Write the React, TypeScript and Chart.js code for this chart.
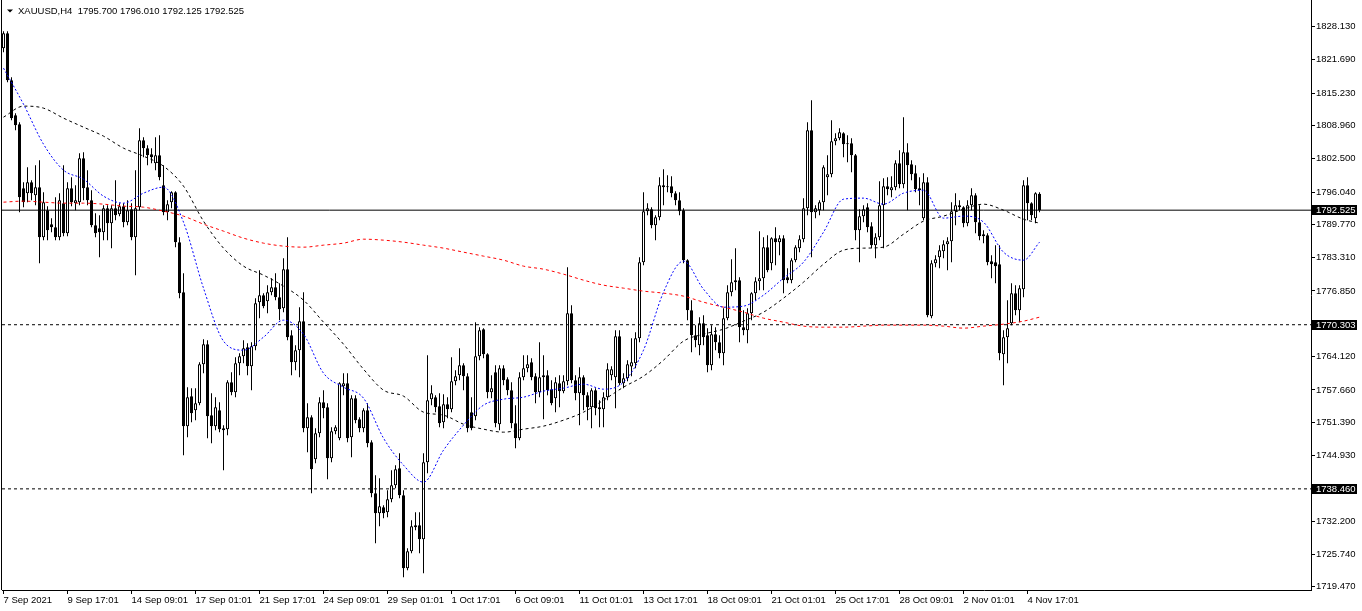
import React, { useEffect, useRef } from 'react';
import { Chart, registerables } from 'chart.js';

Chart.register(...registerables);

// ---- data (XAUUSD H4) ----
const symbol = 'XAUUSD,H4';
const lastBar = ['1795.700', '1796.010', '1792.125', '1792.525'];

const opens = [
1823.96,1826.87,1817.75,1810.96,1809.21,1796.80,1795.83,1797.96,1795.44,1796.99,
1787.29,1792.53,1789.81,1789.23,1787.29,1793.89,1788.07,1796.80,1793.89,1794.08,
1802.62,1796.99,1794.47,1789.62,1789.04,1788.26,1792.92,1790.01,1792.92,1791.75,
1793.31,1790.20,1792.72,1787.29,1793.11,1806.11,1804.56,1803.39,1801.65,1803.20,
1797.38,1792.14,1794.08,1796.02,1786.32,1776.62,1750.63,1756.45,1753.73,1755.09,
1762.65,1766.53,1752.76,1750.63,1753.73,1750.24,1750.04,1759.16,1757.22,1762.85,
1764.21,1765.95,1762.27,1766.15,1774.68,1776.04,1774.88,1776.62,1777.59,1775.65,
1773.52,1781.08,1768.28,1763.04,1765.37,1771.00,1750.24,1752.37,1744.22,1749.27,
1755.28,1754.31,1744.42,1749.66,1748.30,1758.39,1758.97,1748.49,1756.06,1751.98,
1750.24,1753.73,1747.52,1737.63,1733.75,1734.91,1733.94,1736.46,1739.18,1742.48,
1737.24,1723.08,1726.38,1731.42,1731.42,1728.70,1743.64,1755.86,1756.25,1754.51,
1751.40,1754.89,1753.92,1759.36,1760.52,1762.46,1760.33,1753.34,1752.57,1764.21,
1769.44,1764.59,1757.22,1761.10,1751.01,1761.88,1759.74,1757.61,1751.21,1748.30,
1760.13,1761.88,1763.04,1760.33,1757.22,1760.13,1760.52,1757.80,1756.06,1758.97,
1757.42,1759.36,1772.55,1759.55,1757.03,1760.13,1756.64,1754.31,1757.61,1754.31,
1753.92,1756.25,1760.52,1760.13,1768.09,1758.97,1759.94,1762.20,1762.85,1767.70,
1782.44,1792.34,1792.72,1789.62,1791.17,1797.38,1797.19,1797.19,1795.83,1794.47,
1792.53,1782.83,1773.13,1768.28,1766.34,1770.61,1768.28,1762.46,1768.47,1766.92,
1764.79,1771.58,1776.62,1778.95,1778.95,1769.83,1769.25,1772.55,1776.43,1778.76,
1779.34,1785.35,1782.25,1787.10,1786.32,1787.10,1779.53,1778.95,1782.83,1785.16,
1786.90,1792.92,1808.05,1792.14,1792.53,1794.08,1798.93,1799.51,1805.92,1806.50,
1807.47,1805.53,1805.53,1803.20,1788.65,1791.37,1793.11,1789.43,1785.74,1787.29,
1793.50,1797.19,1796.41,1796.99,1801.65,1797.57,1803.78,1801.45,1799.71,1796.80,
1790.98,1797.96,1771.97,1782.25,1783.41,1784.58,1785.93,1786.52,1792.34,1793.50,
1793.11,1790.01,1793.50,1795.44,1790.20,1787.49,1787.68,1782.64,1782.44,1782.05,
1764.59,1767.89,1770.61,1776.43,1773.13,1777.20,1797.38,1793.89,1790.98,1795.70
];

const highs = [
1827.26,1827.26,1818.33,1811.35,1809.60,1797.96,1800.87,1798.35,1801.26,1802.23,
1796.02,1793.31,1790.98,1795.05,1795.83,1801.26,1797.96,1798.93,1797.38,1803.59,
1803.78,1800.29,1796.41,1791.95,1791.56,1793.50,1793.50,1793.50,1798.35,1793.89,
1793.89,1794.47,1793.89,1800.29,1808.44,1806.69,1805.14,1804.56,1806.69,1807.08,
1801.26,1794.47,1796.22,1796.22,1787.29,1780.31,1758.19,1758.00,1758.00,1763.04,
1767.50,1767.31,1757.03,1756.25,1755.28,1750.82,1759.55,1761.10,1764.01,1764.79,
1767.31,1766.73,1766.92,1775.46,1780.89,1776.43,1777.98,1779.34,1780.31,1778.37,
1783.22,1787.29,1769.25,1766.34,1773.71,1776.62,1755.09,1752.76,1750.24,1756.25,
1757.61,1755.09,1750.43,1750.82,1759.16,1760.91,1760.91,1756.64,1756.64,1752.37,
1754.12,1755.09,1747.91,1741.12,1740.54,1735.30,1738.21,1742.09,1743.06,1745.39,
1738.21,1726.96,1732.39,1733.94,1733.94,1745.39,1764.40,1758.58,1756.64,1757.03,
1756.83,1756.25,1764.01,1761.49,1765.76,1762.85,1760.91,1756.25,1770.80,1769.83,
1769.64,1764.79,1760.52,1762.46,1762.46,1762.46,1760.13,1759.16,1754.70,1761.10,
1764.40,1764.40,1763.82,1760.91,1766.92,1764.40,1761.49,1759.55,1760.13,1760.52,
1760.52,1781.47,1774.10,1760.52,1762.07,1760.52,1757.22,1758.00,1758.00,1755.67,
1757.22,1762.85,1762.27,1769.25,1769.25,1760.91,1763.43,1767.70,1768.86,1783.41,
1796.02,1793.89,1793.11,1791.56,1798.93,1800.48,1799.32,1799.13,1796.22,1796.02,
1792.92,1783.02,1775.07,1770.22,1771.77,1772.16,1769.64,1770.22,1769.83,1768.28,
1773.52,1777.98,1783.02,1785.16,1779.53,1773.13,1773.52,1776.62,1779.53,1788.46,
1787.29,1787.68,1787.29,1789.23,1787.68,1787.68,1781.28,1783.22,1785.74,1787.68,
1794.86,1809.60,1813.87,1793.50,1794.47,1801.26,1803.20,1809.99,1807.47,1808.44,
1807.66,1807.08,1806.50,1803.40,1792.72,1793.50,1793.89,1790.20,1788.07,1798.16,
1798.74,1798.93,1799.13,1802.23,1804.17,1810.57,1805.53,1802.23,1801.26,1798.93,
1799.71,1798.93,1782.83,1783.80,1785.74,1786.71,1787.29,1794.08,1795.83,1794.47,
1793.31,1794.47,1796.80,1795.83,1793.50,1788.65,1788.07,1783.80,1785.74,1785.74,
1769.25,1775.07,1778.37,1777.98,1777.98,1798.35,1798.93,1794.08,1796.02,1796.01
];

const lows = [
1823.18,1817.36,1809.99,1808.05,1792.14,1793.11,1794.08,1794.47,1793.50,1782.25,
1786.71,1786.71,1788.26,1786.71,1786.71,1787.49,1787.49,1793.31,1792.53,1793.50,
1794.47,1793.50,1789.23,1787.29,1783.41,1786.71,1786.71,1785.16,1790.59,1791.37,
1789.23,1789.62,1786.71,1779.92,1792.53,1802.81,1801.26,1801.65,1800.29,1798.35,
1791.56,1790.59,1792.92,1785.35,1775.46,1745.00,1748.49,1751.40,1751.79,1754.70,
1760.91,1748.30,1747.33,1749.85,1749.46,1742.09,1748.88,1756.64,1756.25,1760.52,
1762.85,1760.52,1757.61,1765.37,1771.58,1773.52,1772.55,1776.04,1775.07,1771.19,
1772.74,1767.31,1760.52,1761.49,1760.13,1749.46,1745.58,1737.63,1743.45,1748.49,
1752.18,1740.34,1743.64,1749.07,1747.91,1756.64,1747.52,1744.61,1751.21,1749.46,
1749.46,1746.55,1736.85,1727.93,1731.23,1732.78,1732.97,1735.88,1738.60,1736.66,
1721.33,1722.69,1725.99,1730.45,1725.99,1722.11,1741.51,1754.70,1753.34,1750.43,
1750.24,1752.18,1753.34,1758.58,1759.55,1757.61,1749.46,1749.85,1751.79,1763.43,
1763.82,1756.06,1756.06,1750.43,1749.85,1758.58,1756.64,1750.24,1746.36,1747.91,
1759.55,1761.10,1759.55,1755.09,1756.25,1751.98,1756.64,1754.70,1753.34,1754.31,
1757.03,1758.58,1758.97,1755.67,1750.82,1753.73,1751.79,1750.24,1752.76,1750.43,
1750.43,1755.67,1759.55,1754.12,1758.58,1758.00,1759.36,1760.33,1761.88,1766.92,
1781.86,1791.56,1789.04,1786.71,1790.59,1793.50,1796.02,1795.05,1793.50,1791.56,
1782.25,1771.19,1764.98,1765.95,1764.40,1766.34,1761.10,1761.49,1765.37,1763.82,
1762.46,1771.19,1775.85,1777.01,1766.92,1768.28,1766.73,1771.19,1775.07,1777.01,
1777.01,1780.50,1780.89,1781.86,1783.80,1776.43,1778.37,1778.37,1782.44,1784.38,
1786.32,1791.56,1783.41,1790.98,1791.56,1792.53,1795.44,1798.93,1805.14,1806.11,
1802.81,1801.84,1799.90,1786.71,1782.44,1790.20,1788.26,1785.16,1783.22,1786.71,
1785.16,1795.44,1795.05,1796.41,1796.80,1796.80,1792.53,1798.35,1796.02,1793.50,
1790.59,1771.77,1771.58,1781.47,1781.28,1783.22,1780.89,1782.44,1789.62,1792.53,
1789.23,1789.43,1792.53,1788.07,1786.71,1786.13,1781.86,1779.34,1778.37,1763.43,
1758.58,1762.85,1770.22,1772.16,1770.80,1775.65,1790.59,1790.59,1790.01,1792.125
];

const closes = [
1826.87,1817.75,1810.38,1809.02,1795.05,1794.08,1797.96,1795.83,1796.99,1787.29,
1794.08,1788.65,1789.23,1787.29,1794.47,1788.07,1796.80,1794.08,1794.47,1802.62,
1796.80,1794.47,1789.62,1788.07,1788.26,1792.92,1790.01,1792.92,1791.56,1793.31,
1790.20,1792.53,1787.29,1792.92,1806.11,1804.56,1803.20,1802.81,1803.20,1798.93,
1792.14,1793.69,1796.02,1786.32,1776.43,1750.63,1756.25,1753.15,1755.09,1762.65,
1766.53,1752.57,1750.63,1754.31,1750.04,1749.85,1759.16,1757.22,1762.85,1764.21,
1765.76,1762.27,1766.15,1774.49,1776.04,1773.91,1776.62,1777.59,1775.65,1773.32,
1781.08,1767.89,1763.04,1765.37,1771.00,1750.24,1752.37,1742.28,1749.27,1755.28,
1754.12,1744.42,1749.66,1750.43,1758.97,1758.97,1748.30,1756.06,1751.79,1750.24,
1753.73,1747.33,1737.63,1733.75,1735.11,1733.75,1736.46,1739.18,1742.28,1737.24,
1723.08,1726.38,1731.23,1731.03,1728.70,1743.64,1755.67,1757.03,1754.31,1751.21,
1754.89,1753.92,1759.36,1760.33,1762.46,1760.33,1750.24,1750.24,1764.21,1769.25,
1764.59,1757.22,1758.00,1751.21,1761.88,1759.55,1757.61,1751.21,1748.30,1760.13,
1761.88,1762.65,1760.13,1757.22,1760.13,1760.52,1757.61,1755.09,1759.16,1757.42,
1759.36,1772.55,1759.55,1757.03,1760.13,1756.64,1754.31,1757.61,1754.12,1753.92,
1756.25,1761.68,1761.68,1768.09,1758.97,1759.94,1762.65,1763.04,1767.70,1782.44,
1792.34,1792.92,1789.62,1791.17,1797.38,1796.99,1796.99,1795.83,1794.47,1792.34,
1782.83,1773.13,1768.28,1767.31,1770.61,1767.89,1762.46,1768.47,1766.92,1764.79,
1771.58,1776.62,1778.56,1778.56,1769.83,1769.25,1772.55,1776.43,1778.76,1779.34,
1785.35,1780.89,1787.10,1786.32,1787.10,1778.95,1778.95,1782.83,1785.35,1786.90,
1792.92,1808.05,1792.14,1792.92,1794.08,1800.87,1799.51,1805.92,1806.50,1807.66,
1805.33,1805.33,1803.20,1788.65,1791.37,1792.72,1789.23,1785.74,1787.29,1793.50,
1797.19,1796.60,1796.99,1801.65,1797.57,1803.78,1801.26,1799.51,1796.60,1796.41,
1797.96,1772.16,1782.25,1783.02,1784.77,1785.93,1786.52,1792.34,1793.50,1793.11,
1790.01,1793.50,1795.44,1790.20,1787.49,1787.87,1782.44,1782.05,1781.67,1764.79,
1767.89,1769.64,1776.43,1773.13,1777.40,1797.38,1793.89,1791.56,1795.83,1792.525
];

// moving averages, sampled at bar indices
const maIdx = [0,5,10,15,20,25,30,35,40,45,50,55,60,65,70,75,80,85,90,95,100,105,110,115,120,125,
  130,135,140,145,150,155,160,165,170,175,180,185,190,195,200,205,210,215,220,225,230,235,240,245,250,255,259];
const maFast = [1820.08,1813.09,1805.33,1800.29,1798.54,1795.25,1793.89,1795.83,1796.99,1790.20,
  1777.40,1767.12,1765.37,1767.89,1771.19,1768.47,1760.91,1758.19,1756.06,1748.30,1743.06,1739.76,
  1745.97,1750.82,1754.70,1755.86,1756.25,1757.42,1758.00,1758.77,1757.80,1759.16,1765.37,1776.62,
  1782.64,1777.20,1773.71,1773.91,1776.04,1779.34,1782.44,1788.26,1794.66,1794.86,1793.69,1795.83,
  1796.41,1790.98,1791.37,1790.20,1784.38,1782.83,1786.32];
const maMid = [1810.57,1812.71,1812.32,1810.38,1808.63,1806.89,1804.56,1803.01,1801.07,1797.19,
  1790.40,1785.16,1781.67,1779.92,1777.79,1775.07,1770.80,1766.53,1761.68,1757.61,1756.45,1753.34,
  1752.76,1751.01,1750.04,1749.46,1750.04,1750.63,1751.79,1753.34,1755.67,1758.19,1760.33,1763.43,
  1767.12,1768.47,1769.44,1771.00,1772.74,1775.46,1778.56,1782.05,1784.77,1785.16,1785.35,1787.87,
  1790.40,1791.37,1792.72,1793.69,1792.53,1790.78,1790.01];
const maSlow = [1794.08,1794.28,1794.08,1793.89,1793.89,1793.69,1793.31,1793.11,1792.34,1791.37,
  1789.81,1788.46,1787.10,1786.13,1785.55,1785.35,1785.74,1786.13,1786.90,1786.71,1786.32,1785.74,
  1785.16,1784.38,1783.61,1782.83,1781.67,1781.08,1780.11,1778.95,1777.98,1777.40,1776.82,1776.43,
  1775.85,1774.68,1773.71,1772.74,1771.58,1770.80,1770.03,1769.83,1769.83,1770.03,1770.22,1770.22,
  1770.22,1770.03,1769.64,1770.03,1770.41,1771.00,1771.77];

// axes
const xTickIdx = [0,16,32,48,64,80,96,112,128,144,160,176,192,208,224,240,256];
const xTickLabels = ['7 Sep 2021','9 Sep 17:01','14 Sep 09:01','17 Sep 01:01','21 Sep 17:01','24 Sep 09:01',
  '29 Sep 01:01','1 Oct 17:01','6 Oct 09:01','11 Oct 01:01','13 Oct 17:01','18 Oct 09:01','21 Oct 01:01',
  '25 Oct 17:01','28 Oct 09:01','2 Nov 01:01','4 Nov 17:01'];
const yTickValues = [1828.13,1821.69,1815.23,1808.96,1802.5,1796.04,1789.77,1783.31,1776.85,1770.58,
  1764.12,1757.66,1751.39,1744.93,1738.47,1732.2,1725.74,1719.47];
const yTickLabels = ['1828.130','1821.690','1815.230','1808.960','1802.500','1796.040','1789.770','1783.310',
  '1776.850','1770.580','1764.120','1757.660','1751.390','1744.930','1738.470','1732.200','1725.740','1719.470'];

// horizontal levels
const levels = [1792.525, 1770.303, 1738.46];
const levelLabels = ['1792.525', '1770.303', '1738.460'];
const levelDashed = [false, true, true];

const FONT = '"Liberation Sans", Arial, sans-serif';
const FS = 9.5;

export default function App() {
  const ref = useRef<HTMLCanvasElement | null>(null);

  useEffect(() => {
    document.body.style.margin = '0';
    const canvas = ref.current;
    if (!canvas) return;
    const n = Math.min(opens.length, highs.length, lows.length, closes.length);
    const idx = Array.from({ length: n }, (_, i) => i);
    const xMin = -0.375;
    const xMax = 326.875;
    const yMin = 1718.84;
    const yMax = 1833.3;

    const frame = {
      id: 'mtFrame',
      afterDraw(chart: any) {
        const { ctx, chartArea: a, scales } = chart;
        const ys = scales.y;
        ctx.save();
        ctx.strokeStyle = '#000';
        ctx.lineWidth = 1;
        ctx.beginPath();
        ctx.moveTo(a.left - 0.5, a.top);
        ctx.lineTo(a.left - 0.5, a.bottom);
        ctx.stroke();
        ctx.font = `${FS}px ${FONT}`;
        ctx.textBaseline = 'middle';
        ctx.textAlign = 'left';
        levels.forEach((lv, k) => {
          const py = Math.round(ys.getPixelForValue(lv));
          ctx.fillStyle = '#000';
          ctx.fillRect(a.right + 1, py - 5, 45, 10);
          ctx.fillStyle = '#fff';
          ctx.fillText(levelLabels[k], a.right + 5, py + 0.5);
        });
        ctx.fillStyle = '#000';
        ctx.beginPath();
        ctx.moveTo(7, 9.5);
        ctx.lineTo(13, 9.5);
        ctx.lineTo(10, 12.5);
        ctx.closePath();
        ctx.fill();
        ctx.fillText(`${symbol}  ${lastBar.join(' ')}`, 18, 11.5);
        ctx.restore();
      },
    };

    const maLine = (vals: number[], color: string, dash: number[]) => ({
      type: 'line' as const,
      data: maIdx.map((x, k) => ({ x, y: vals[k] })),
      borderColor: color,
      borderWidth: 1,
      borderDash: dash,
      pointRadius: 0,
      fill: false,
      cubicInterpolationMode: 'monotone' as const,
      order: 0,
    });

    const levelLine = (lv: number, dashed: boolean) => ({
      type: 'line' as const,
      data: [{ x: xMin, y: lv }, { x: xMax, y: lv }],
      borderColor: '#000',
      borderWidth: 1,
      borderDash: dashed ? [3, 3] : [],
      pointRadius: 0,
      fill: false,
      order: 0,
    });

    const chart = new Chart(canvas, {
      type: 'bar',
      data: {
        datasets: [
          {
            type: 'bar',
            data: idx.map((i) => ({ x: i, y: [lows[i], highs[i]] })),
            backgroundColor: '#000',
            borderWidth: 0,
            barThickness: 1,
            grouped: false,
            inflateAmount: 0,
            order: 2,
          } as any,
          {
            type: 'bar',
            data: idx.map((i) => ({ x: i, y: [opens[i], closes[i]] })),
            backgroundColor: (c: any) => (closes[c.dataIndex] >= opens[c.dataIndex] ? '#fff' : '#000'),
            borderColor: '#000',
            borderWidth: 1,
            borderSkipped: false,
            barThickness: 3,
            minBarLength: 1,
            grouped: false,
            inflateAmount: 0,
            order: 1,
          } as any,
          maLine(maFast, '#0000ff', [2, 2]) as any,
          maLine(maMid, '#000000', [3, 3]) as any,
          maLine(maSlow, '#ff0000', [3, 3]) as any,
          ...levels.map((lv, k) => levelLine(lv, levelDashed[k]) as any),
        ],
      },
      options: {
        animation: false,
        responsive: false,
        maintainAspectRatio: false,
        devicePixelRatio: 1,
        layout: { padding: { left: 2, top: 0, right: 0, bottom: 0 } },
        plugins: { legend: { display: false }, tooltip: { enabled: false }, title: { display: false } },
        scales: {
          x: {
            type: 'linear',
            position: 'bottom',
            min: xMin,
            max: xMax,
            offset: false,
            afterFit: (s: any) => {
              s.height = 21;
              s.paddingLeft = 0;
              s.paddingRight = 0;
            },
            afterBuildTicks: (s: any) => {
              s.ticks = xTickIdx.map((v) => ({ value: v }));
            },
            ticks: {
              autoSkip: false,
              maxRotation: 0,
              minRotation: 0,
              align: 'start',
              padding: 1,
              color: '#000',
              font: { family: FONT, size: FS },
              callback: (_v: any, i: number) => xTickLabels[i],
            },
            grid: { display: true, drawOnChartArea: false, drawTicks: true, tickLength: 4, color: '#000', offset: false },
            border: { display: true, color: '#000', width: 1 },
          },
          y: {
            type: 'linear',
            position: 'right',
            min: yMin,
            max: yMax,
            beginAtZero: false,
            afterFit: (s: any) => {
              s.width = 51;
              s.paddingTop = 0;
              s.paddingBottom = 0;
            },
            afterBuildTicks: (s: any) => {
              s.ticks = yTickValues.map((v) => ({ value: v }));
            },
            ticks: {
              autoSkip: false,
              padding: 1,
              color: '#000',
              font: { family: FONT, size: FS },
              callback: (_v: any, i: number) => yTickLabels[i],
            },
            grid: { display: true, drawOnChartArea: false, drawTicks: true, tickLength: 4, color: '#000' },
            border: { display: true, color: '#000', width: 1 },
          },
        },
      } as any,
      plugins: [frame],
    });

    return () => chart.destroy();
  }, []);

  return (
    <div style={{ width: 1362, height: 611, background: '#fff' }}>
      <canvas ref={ref} width={1362} height={611} style={{ display: 'block' }} />
    </div>
  );
}
